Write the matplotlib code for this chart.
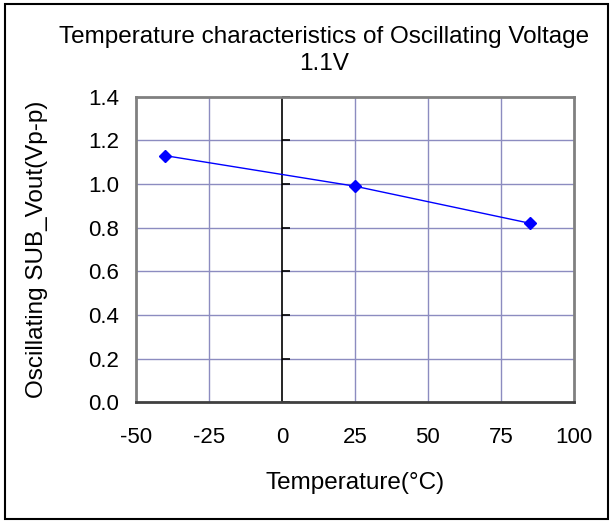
import numpy as np
import matplotlib
matplotlib.use('Agg')
import matplotlib.pyplot as plt
from matplotlib.patches import Rectangle

plt.rcParams['font.family'] = ['Liberation Sans', 'DejaVu Sans']

temperature = [-40, 25, 85]
vout = [1.13, 0.99, 0.82]
xticks = [-50, -25, 0, 25, 50, 75, 100]
yticks = [0.0, 0.2, 0.4, 0.6, 0.8, 1.0, 1.2, 1.4]

fig = plt.figure(figsize=(6.13, 5.23), dpi=100)
ax = fig.add_axes([0.222, 0.231, 0.714, 0.584])

grid_c = '#8C8CC0'

# grid lines (x=0 is drawn as the black axis)
for xv in xticks[1:-1]:
    if xv != 0:
        ax.axvline(xv, color=grid_c, lw=1, zorder=1)
for yv in yticks[1:-1]:
    ax.axhline(yv, color=grid_c, lw=1, zorder=1)

ax.axvline(0, color='black', lw=1.2, zorder=2)
ax.plot(np.zeros(len(yticks)), yticks, linestyle='none', marker=1,
        markersize=6, markeredgewidth=1.2, color='black', zorder=2, clip_on=False)

ax.plot(temperature, vout, color='#0000FF', lw=1, marker='D', markersize=6.5,
        zorder=3)

ax.set_xlim(-50, 100)
ax.set_ylim(0, 1.4)
ax.set_xticks(xticks)
ax.set_yticks(yticks)
ax.set_xticklabels([str(v) for v in xticks], fontsize=16)
ax.set_yticklabels(['%.1f' % v for v in yticks], fontsize=16)
ax.tick_params(axis='y', length=0, pad=12)
ax.tick_params(axis='x', length=0, pad=18)

for s in ax.spines.values():
    s.set_color('#808080')
    s.set_linewidth(2)
ax.spines['bottom'].set_color('#404040')

ax.set_xlabel('Temperature(°C)', fontsize=17.5, labelpad=17.5)
ax.set_ylabel('Oscillating SUB_Vout(Vp-p)', fontsize=17.5, labelpad=29)

fig.text(0.528, 0.918, 'Temperature characteristics of Oscillating Voltage',
         fontsize=17.5, ha='center', va='baseline')
fig.text(0.528, 0.866, '1.1V', fontsize=17.5, ha='center', va='baseline')

fig.patches.append(Rectangle((0.008, 0.008), 0.984, 0.984, transform=fig.transFigure,
                             fill=False, edgecolor='black', lw=1.5))

fig.savefig('out.png', dpi=100)
